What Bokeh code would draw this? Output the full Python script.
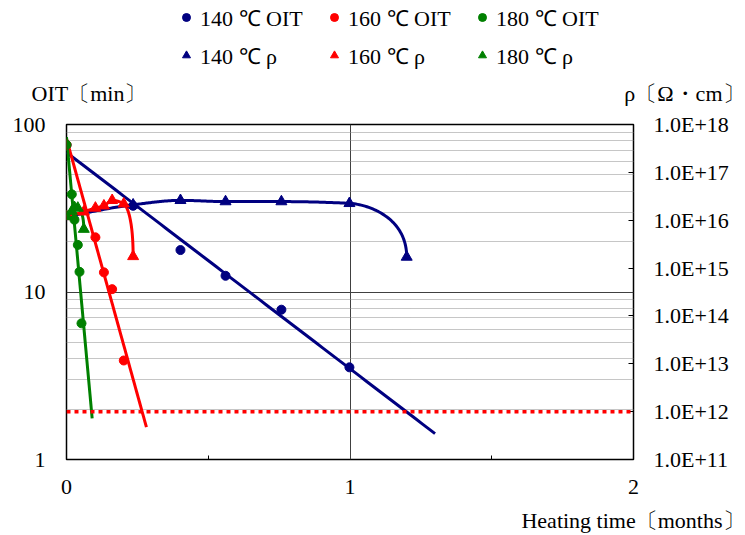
import numpy as np
from bokeh.plotting import figure
from bokeh.layouts import column
from bokeh.models import (LogAxis, Range1d, FixedTicker, CustomJSTickFormatter, Span,
                          Legend, LegendItem, LogScale, Label)
from bokeh.embed import file_html
from bokeh.resources import INLINE

FONT = "Liberation Serif"
FS = "22px"

# ---------------- data ----------------
# OIT (min) vs heating time (months)
t_oit_140 = [0, 0.235, 0.402, 0.561, 0.758, 0.998]
oit_140 = [75.6, 32.7, 17.8, 12.5, 7.84, 3.55]
t_oit_160 = [0, 0.102, 0.132, 0.161, 0.202]
oit_160 = [75.6, 21.2, 13.1, 10.4, 3.9]
t_oit_180 = [0, 0.0187, 0.0282, 0.0399, 0.0459, 0.0529]
oit_180 = [75.6, 38.3, 27.0, 19.1, 13.2, 6.5]
trend_end = [1.30, 0.282, 0.0905]   # forward extent of the exponential trendlines

# volume resistivity rho (ohm*cm) vs heating time (months)
t_rho_140 = [0, 0.235, 0.402, 0.561, 0.758, 0.998, 1.2]
rho_140 = [1.2e16, 2.1e16, 2.6e16, 2.45e16, 2.45e16, 2.25e16, 1.7e15]
t_rho_160 = [0, 0.061, 0.102, 0.132, 0.161, 0.202, 0.235]
rho_160 = [1.2e16, 1.5e16, 1.8e16, 2.0e16, 2.6e16, 2.2e16, 1.75e15]
t_rho_180 = [0, 0.0187, 0.0282, 0.0399, 0.061]
rho_180 = [1.2e16, 1.55e16, 1.85e16, 1.8e16, 6.5e15]
rho_limit = 1e12

labels_oit = ["140 ℃ OIT", "160 ℃ OIT", "180 ℃ OIT"]
labels_rho = ["140 ℃ ρ", "160 ℃ ρ", "180 ℃ ρ"]
y_title = "OIT〔min〕"
y2_title = "ρ〔Ω・cm〕"
x_title = "Heating time〔months〕"
colors = ["#000080", "#FF0000", "#008000"]

x_ticks = [0, 1, 2]
x_minor = [0.5, 1.5]
oit_ticks = [1, 10, 100]
oit_minor = [2, 3, 4, 5, 6, 7, 8, 9, 20, 30, 40, 50, 60, 70, 80, 90]
rho_ticks = [1e11, 1e12, 1e13, 1e14, 1e15, 1e16, 1e17, 1e18]

W = 745
HEAD_H, MAIN_H, FOOT_H = 110, 396, 29


def smooth_curve(xs, ys, n=40):
    """Smoothed line through the points (shape-preserving tangents);
    the final point is reached steeply, as in the reference."""
    x = np.asarray(xs, float)
    y = np.asarray(ys, float)
    h = np.diff(x)
    s = np.diff(y) / h
    m = np.zeros_like(x)
    m[0] = s[0]
    for i in range(1, len(x) - 1):
        if s[i - 1] * s[i] <= 0:
            m[i] = 0.0
        else:
            w1 = 2 * h[i] + h[i - 1]
            w2 = h[i] + 2 * h[i - 1]
            m[i] = (w1 + w2) / (w1 / s[i - 1] + w2 / s[i])
    m[-1] = s[-1]
    t = np.linspace(0, 1, n)[:, None]
    out = []
    for i in range(len(x) - 1):
        p0 = np.array([x[i], y[i]])
        p1 = np.array([x[i + 1], y[i + 1]])
        c1 = np.array([x[i] + h[i] / 3, y[i] + m[i] * h[i] / 3])
        if i == len(x) - 2:
            c2 = np.array([x[i + 1], c1[1] - 0.25 * (c1[1] - y[i + 1])])
        else:
            c2 = np.array([x[i + 1] - h[i] / 3, y[i + 1] - m[i + 1] * h[i] / 3])
        seg = ((1 - t) ** 3) * p0 + 3 * ((1 - t) ** 2) * t * c1 + 3 * (1 - t) * t ** 2 * c2 + t ** 3 * p1
        out.append(seg if i == 0 else seg[1:])
    S = np.vstack(out)
    return S[:, 0], S[:, 1]


def text_panel(h):
    f = figure(width=W, height=h, x_range=Range1d(0, W), y_range=Range1d(h, 0),
               x_axis_location=None, y_axis_location=None, output_backend="svg",
               toolbar_location=None, min_border=0, outline_line_color=None,
               frame_align=False)
    f.min_border_left = f.min_border_right = f.min_border_top = f.min_border_bottom = 0
    f.background_fill_color = "white"
    f.border_fill_color = "white"
    f.grid.visible = False
    return f


# ---------------- main plot ----------------
p = figure(frame_width=567, frame_height=335, output_backend="svg", toolbar_location=None,
           x_range=Range1d(0, 2), y_range=Range1d(1, 100), y_axis_type="log",
           min_border_left=66, min_border_right=112, min_border_top=14, min_border_bottom=47,
           frame_align=False)
p.background_fill_color = "white"
p.border_fill_color = "white"
p.outline_line_color = "black"
p.outline_line_width = 1.5

p.extra_y_ranges = {"rho": Range1d(1e11, 1e18)}
p.extra_y_scales = {"rho": LogScale()}

# x axis
xt = FixedTicker(ticks=x_ticks, minor_ticks=x_minor)
xa = p.xaxis[0]
xa.ticker = xt
xa.formatter = CustomJSTickFormatter(code="return tick.toFixed(0);")
xa.axis_line_color = None
xa.major_tick_in = 0
xa.major_tick_out = 0
xa.minor_tick_in = 4
xa.minor_tick_out = 0
xa.minor_tick_line_color = "black"
xa.major_label_standoff = 20
xa.major_label_text_font = FONT
xa.major_label_text_font_size = FS
xa.major_label_text_color = "black"
p.xgrid[0].ticker = xt
p.xgrid.grid_line_color = "#404040"
p.xgrid.grid_line_width = 1

# left axis
yt = FixedTicker(ticks=oit_ticks, minor_ticks=oit_minor)
ya = p.yaxis[0]
ya.ticker = yt
ya.formatter = CustomJSTickFormatter(code="return tick.toFixed(0);")
ya.axis_line_color = None
ya.major_tick_in = 0
ya.major_tick_out = 0
ya.minor_tick_in = 0
ya.minor_tick_out = 0
ya.major_label_standoff = 21
ya.major_label_text_font = FONT
ya.major_label_text_font_size = FS
ya.major_label_text_color = "black"
p.ygrid[0].ticker = yt
p.ygrid.grid_line_color = "#404040"
p.ygrid.grid_line_width = 1
p.ygrid.minor_grid_line_color = "#8c8c8c"
p.ygrid.minor_grid_line_dash = "1 1"
p.ygrid.minor_grid_line_width = 1

# right axis
ra = LogAxis(y_range_name="rho", ticker=FixedTicker(ticks=rho_ticks),
             formatter=CustomJSTickFormatter(code="return '1.0E+' + Math.round(Math.log10(tick));"))
ra.axis_line_color = None
ra.major_tick_in = 5
ra.major_tick_out = 0
ra.major_tick_line_color = "black"
ra.minor_tick_in = 0
ra.minor_tick_out = 0
ra.major_label_standoff = 20
ra.major_label_text_font = FONT
ra.major_label_text_font_size = FS
ra.major_label_text_color = "black"
p.add_layout(ra, "right")

# threshold line
p.add_layout(Span(location=rho_limit, dimension="width", y_range_name="rho",
                  line_color="#FF0000", line_width=3.5, line_dash="4 4"))

oit_sets = [(t_oit_140, oit_140), (t_oit_160, oit_160), (t_oit_180, oit_180)]
rho_sets = [(t_rho_140, rho_140), (t_rho_160, rho_160), (t_rho_180, rho_180)]

for (tx, ry), c in zip(rho_sets, colors):
    sx, sy = smooth_curve(tx, np.log10(ry))
    p.line(sx, 10 ** sy, y_range_name="rho", line_color=c, line_width=3)

for (tx, oy), c, te in zip(oit_sets, colors, trend_end):
    a, b = np.polyfit(tx, np.log10(oy), 1)
    xs = np.linspace(0, te, 60)
    p.line(xs, 10 ** (a * xs + b), line_color=c, line_width=3)

for (tx, oy), (rx, ry), c in zip(oit_sets, rho_sets, colors):
    p.scatter(rx, ry, y_range_name="rho", marker="triangle", size=11, fill_color=c, line_color=c)
    p.scatter(tx, oy, marker="circle", size=9, fill_color=c, line_color=c)

# ---------------- header: legend + axis titles ----------------
head = text_panel(HEAD_H)
nan = [float("nan")]
oit_keys = [head.scatter(x=nan, y=nan, marker="circle", fill_color=c, line_color=c) for c in colors]
rho_keys = [head.scatter(x=nan, y=nan, marker="triangle", fill_color=c, line_color=c) for c in colors]


def make_legend(items, loc):
    return Legend(items=items, orientation="horizontal", location=loc,
                  border_line_color=None, background_fill_alpha=0, padding=0, margin=0,
                  spacing=12, glyph_width=20, glyph_height=26, label_height=26,
                  label_width=112, label_standoff=4,
                  label_text_font=FONT, label_text_font_size=FS, label_text_color="black")


head.add_layout(make_legend([LegendItem(label=l, renderers=[r]) for l, r in zip(labels_oit, oit_keys)],
                            (176, 78)))
head.add_layout(make_legend([LegendItem(label=l, renderers=[r]) for l, r in zip(labels_rho, rho_keys)],
                            (176, 40)))
head.add_layout(Label(x=31, y=93, text=y_title, text_align="left", text_baseline="middle",
                      text_font=FONT, text_font_size=FS, text_color="black"))
head.add_layout(Label(x=744, y=93, text=y2_title, text_align="right", text_baseline="middle",
                      text_font=FONT, text_font_size=FS, text_color="black"))

# ---------------- footer: x-axis title ----------------
foot = text_panel(FOOT_H)
foot.add_layout(Label(x=744, y=14, text=x_title, text_align="right", text_baseline="middle",
                      text_font=FONT, text_font_size=FS, text_color="black"))

layout = column(head, p, foot, spacing=0)
open("out.html", "w").write(file_html(layout, INLINE))
